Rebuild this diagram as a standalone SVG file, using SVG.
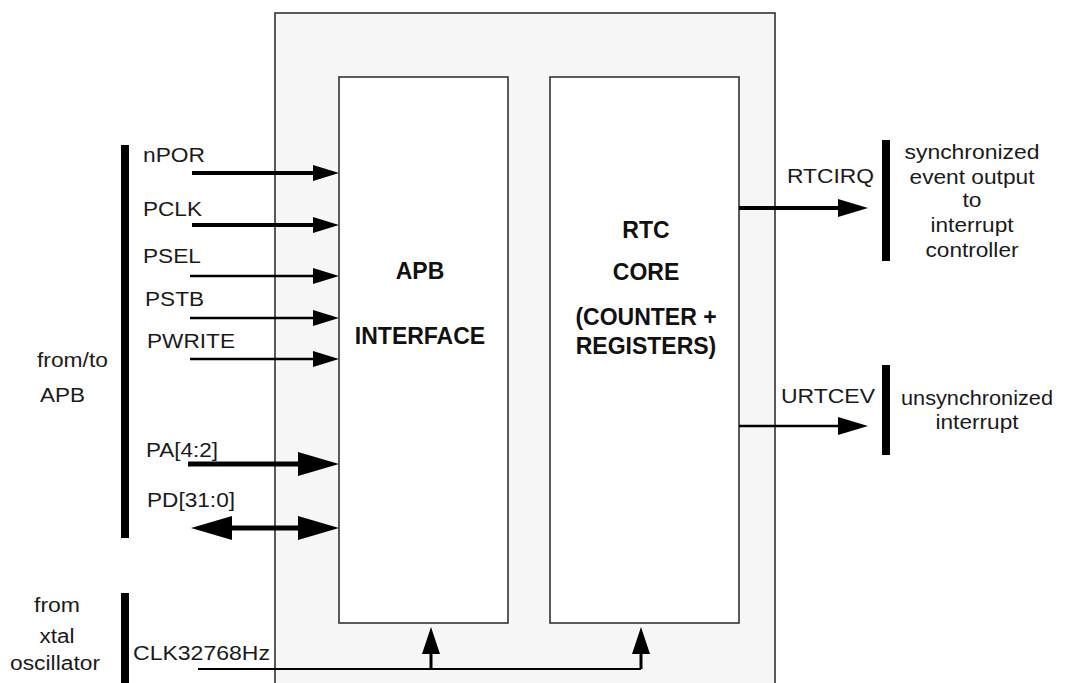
<svg xmlns="http://www.w3.org/2000/svg" width="1066" height="683" viewBox="0 0 1066 683">
<style>
text{font-family:"Liberation Sans",Arial,sans-serif;font-size:20px;fill:#1a1a1a}
.b{font-weight:bold;font-size:23px;text-anchor:middle;fill:#111}
.m{text-anchor:middle}
.e{text-anchor:end}
.box{stroke:#333;stroke-width:1.6}
.w{stroke:#000;fill:none}
.bar{fill:#000}
</style>
<defs>
<marker id="aS" markerUnits="userSpaceOnUse" viewBox="0 0 26 16" markerWidth="26" markerHeight="16" refX="0" refY="8" orient="auto"><path d="M0,0 L26,8 L0,16 z" fill="#000"/></marker>
<marker id="aL" markerUnits="userSpaceOnUse" viewBox="0 0 41 24" markerWidth="41" markerHeight="24" refX="0" refY="12" orient="auto-start-reverse"><path d="M0,0 L41,12 L0,24 z" fill="#000"/></marker>
<marker id="aR" markerUnits="userSpaceOnUse" viewBox="0 0 30 18" markerWidth="30" markerHeight="18" refX="0" refY="9" orient="auto"><path d="M0,0 L30,9 L0,18 z" fill="#000"/></marker>
<marker id="aC" markerUnits="userSpaceOnUse" viewBox="0 0 27 18" markerWidth="27" markerHeight="18" refX="0" refY="9" orient="auto"><path d="M0,0 L27,9 L0,18 z" fill="#000"/></marker>
</defs>

<g id="rtc-block"><rect class="box" x="275" y="13" width="500" height="700" fill="#f6f6f6"/></g>
<g id="apb-interface">
<rect class="box" x="339" y="77" width="169" height="546" fill="#fff"/>
<text class="b" x="420" y="279">APB</text>
<text class="b" x="420" y="344">INTERFACE</text>
</g>
<g id="rtc-core">
<rect class="box" x="550" y="77" width="189" height="546" fill="#fff"/>
<text class="b" x="646" y="238">RTC</text>
<text class="b" x="646" y="280">CORE</text>
<text class="b" x="646" y="325">(COUNTER +</text>
<text class="b" x="646" y="354">REGISTERS)</text>
</g>

<g id="apb-bus">
<rect class="bar" x="121" y="145" width="8" height="393"/>
<text x="37" y="367" textLength="71" lengthAdjust="spacingAndGlyphs">from/to</text>
<text x="40" y="402" textLength="45" lengthAdjust="spacingAndGlyphs">APB</text>
</g>
<g id="xtal">
<rect class="bar" x="121" y="593" width="8" height="100"/>
<text class="m" x="57" y="612" textLength="46" lengthAdjust="spacingAndGlyphs">from</text>
<text class="m" x="57" y="643" textLength="35" lengthAdjust="spacingAndGlyphs">xtal</text>
<text class="m" x="55" y="670" textLength="90" lengthAdjust="spacingAndGlyphs">oscillator</text>
</g>
<g id="sync-out">
<rect class="bar" x="882" y="140" width="8" height="121"/>
<text class="m" x="972" y="159" textLength="135" lengthAdjust="spacingAndGlyphs">synchronized</text>
<text class="m" x="972" y="184" textLength="125" lengthAdjust="spacingAndGlyphs">event output</text>
<text class="m" x="972" y="207" textLength="19" lengthAdjust="spacingAndGlyphs">to</text>
<text class="m" x="972" y="232" textLength="83" lengthAdjust="spacingAndGlyphs">interrupt</text>
<text class="m" x="972" y="257" textLength="93" lengthAdjust="spacingAndGlyphs">controller</text>
</g>
<g id="unsync-out">
<rect class="bar" x="882" y="365" width="8" height="90"/>
<text class="m" x="977" y="405" textLength="152" lengthAdjust="spacingAndGlyphs">unsynchronized</text>
<text class="m" x="977" y="429" textLength="83" lengthAdjust="spacingAndGlyphs">interrupt</text>
</g>

<g id="connectors">
<path class="w" d="M192,173 H313" stroke-width="4" marker-end="url(#aS)"/>
<path class="w" d="M192,225 H313" stroke-width="4" marker-end="url(#aS)"/>
<path class="w" d="M190,276 H313" stroke-width="2.5" marker-end="url(#aS)"/>
<path class="w" d="M190,318 H313" stroke-width="2.5" marker-end="url(#aS)"/>
<path class="w" d="M190,359 H313" stroke-width="2.5" marker-end="url(#aS)"/>
<path class="w" d="M188,464 H298" stroke-width="5" marker-end="url(#aL)"/>
<path class="w" d="M232,528 H298" stroke-width="5" marker-start="url(#aL)" marker-end="url(#aL)"/>
<path class="w" d="M739,208 H838" stroke-width="4" marker-end="url(#aR)"/>
<path class="w" d="M739,426 H838" stroke-width="2.5" marker-end="url(#aR)"/>
<path class="w" d="M198,669 H641" stroke="#222" stroke-width="2"/>
<path class="w" d="M431,669 V654" stroke-width="3" marker-end="url(#aC)"/>
<path class="w" d="M641,669 V654" stroke-width="3" marker-end="url(#aC)"/>
<text x="143" y="162" textLength="62" lengthAdjust="spacingAndGlyphs">nPOR</text>
<text x="143" y="216" textLength="59" lengthAdjust="spacingAndGlyphs">PCLK</text>
<text x="143" y="263" textLength="58" lengthAdjust="spacingAndGlyphs">PSEL</text>
<text x="145" y="306" textLength="59" lengthAdjust="spacingAndGlyphs">PSTB</text>
<text x="147" y="348" textLength="88" lengthAdjust="spacingAndGlyphs">PWRITE</text>
<text x="146" y="457" textLength="72" lengthAdjust="spacingAndGlyphs">PA[4:2]</text>
<text x="147" y="507" textLength="88" lengthAdjust="spacingAndGlyphs">PD[31:0]</text>
<text class="e" x="874" y="183" textLength="87" lengthAdjust="spacingAndGlyphs">RTCIRQ</text>
<text class="e" x="875" y="403" textLength="94" lengthAdjust="spacingAndGlyphs">URTCEV</text>
<text x="133" y="660" textLength="137" lengthAdjust="spacingAndGlyphs">CLK32768Hz</text>
</g>
</svg>
